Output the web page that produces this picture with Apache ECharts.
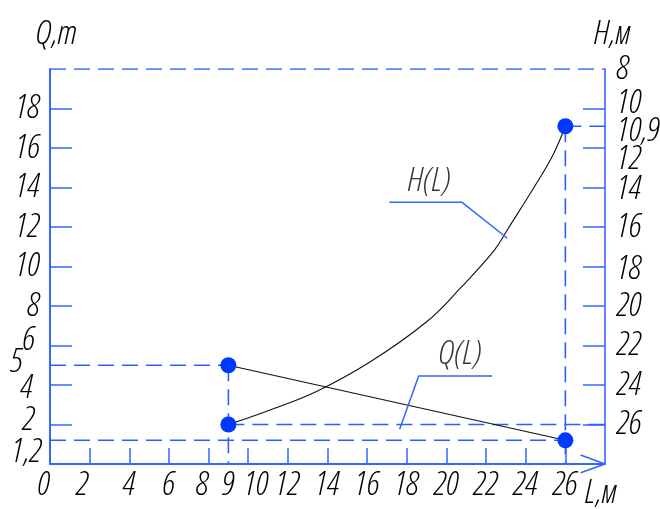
<!DOCTYPE html>
<html><head><meta charset="utf-8">
<script src="https://cdn.jsdelivr.net/npm/echarts@6/dist/echarts.min.js"></script>
<style>html,body{margin:0;padding:0;background:#fff}#c{width:660px;height:509px}</style>
</head><body><div id="c"></div>
<script>
// ---- data ----
const xTickLabels = [0, 2, 4, 6, 8, 9, 10, 12, 14, 16, 18, 20, 22, 24, 26];
const xTicks = [2, 4, 6, 8, 10, 12, 14, 16, 18, 20, 22, 24, 26];
const qTickLabels = [8, 10, 12, 14, 16, 18];
const qLowLabelsA = [1.2, 5];
const qLowLabelsB = [2, 6];
const qLowLabelsC = [4];
const qTicks = [2, 4, 6, 8, 10, 12, 14, 16, 18];
const hTickLabels = [8, 10, 10.9, 12, 14, 16, 18, 20, 22, 24, 26];
const hTicks = [10, 12, 14, 16, 18, 20, 22, 24, 26];

const qL = [9, 26];
const qValues = [5, 1.2];

const hL = [9, 11, 13.5, 16.2, 19.0, 20.7, 22.4, 23.1, 24.6, 25.4, 26];
const hValues = [26, 25.3, 24.3, 22.8, 20.8, 19.1, 17.2, 16.1, 13.7, 12.3, 10.9];

const xMax = 28, qMax = 20, hMin = 8, hMax = 28;

// ---- styles ----
const AX = '#3366ff';
const DASH = '#2a60ff';
const MARK = '#0038ff';
const txt = { fontFamily: '"Open Sans"', fontWeight: '300 condensed', fontStyle: 'italic', fontSize: 34, color: '#000' };

function key(v) { return String(v).replace('.', 'p'); }
function R(p) { return { padding: p }; }
const xRich = { n: R([0, 0, 0, 0]), a0: R([0, 12, 0, 0]), a2: R([0, 14, 0, 0]), a8: R([0, 12, 0, 0]), a10: R([0, 0, 0, 16]) };
const xMap = { '0': 'a0', '2': 'a2', '8': 'a8', '10': 'a10' };
const qRich = { n: R([0, 2, 0, 0]), b6: R([0, 7, 10, 0]), b5: R([0, 19, 6, 0]), b4: R([6, 9, 0, 0]), b2: R([0, 7, 8, 0]), b1p2: R([24, 0, 0, 0]) };
const qMap = { '6': 'b6', '5': 'b5', '4': 'b4', '2': 'b2', '1p2': 'b1p2' };
const hRich = { n: R([0, 0, 0, 0]), c10: R([0, 0, 10, 0]), c10p9: R([10, 0, 0, 0]), c12: R([22, 0, 0, 0]), c14: R([4, 0, 0, 0]), c18: R([6, 0, 0, 0]) };
const hMap = { '10': 'c10', '10p9': 'c10p9', '12': 'c12', '14': 'c14', '18': 'c18' };
const fmt = (map) => (v) => { const k = map[key(v)] || 'n'; return '{' + k + '|' + String(v).replace('.', ',') + '}'; };

function dashed(yIdx, pts) {
  return { type: 'line', xAxisIndex: 0, yAxisIndex: yIdx, data: pts, symbol: 'none', silent: true,
    lineStyle: { color: DASH, width: 1.6, type: [16, 8] }, z: 2 };
}
function solid(yIdx, pts, color, width, extra) {
  return Object.assign({ type: 'line', xAxisIndex: 0, yAxisIndex: yIdx, data: pts, symbol: 'none', silent: true, clip: false,
    lineStyle: { color: color, width: width } , z: 3 }, extra || {});
}

const hPts = hL.map((l, i) => [l, hValues[i]]);
const qPts = qL.map((l, i) => [l, qValues[i]]);
const last = hL.length - 1;

const series = [
  dashed(0, [[0, qMax], [xMax, qMax]]),
  dashed(0, [[0, qValues[0]], [qL[0], qValues[0]]]),
  dashed(0, [[qL[0], qValues[0]], [qL[0], 0]]),
  dashed(0, [[0, qValues[1]], [qL[1], qValues[1]]]),
  dashed(1, [[hL[0], hValues[0]], [xMax, hValues[0]]]),
  dashed(1, [[hL[last], hValues[last]], [hL[last], hMax]]),
  dashed(1, [[hL[last], hValues[last]], [xMax, hValues[last]]]),
  solid(0, qPts, '#111', 1.1),
  solid(1, hPts, '#111', 1.1, { smooth: 0.4 }),
  solid(0, [[17.12, 13.25], [20.79, 13.25], [23.07, 11.43]], AX, 1.5),
  solid(0, [[17.64, 1.76], [18.6, 4.46], [22.31, 4.46]], AX, 1.5),
  solid(0, [[26.77, 0.46], [xMax, 0], [26.77, -0.44]], AX, 1.6),
  { type: 'scatter', xAxisIndex: 0, yAxisIndex: 0, data: qPts, symbolSize: 16, itemStyle: { color: MARK, opacity: 1 }, z: 5 },
  { type: 'scatter', xAxisIndex: 0, yAxisIndex: 1, data: [hPts[0], hPts[last]], symbolSize: 16, itemStyle: { color: MARK, opacity: 1 }, z: 5 },
  { type: 'scatter', xAxisIndex: 0, yAxisIndex: 0, symbolSize: 1, itemStyle: { color: 'rgba(0,0,0,0)' }, z: 6,
    data: [
      { value: [19.14, 13.25], label: { show: true, position: 'top', distance: 4, formatter: 'H(L)', ...txt } },
      { value: [20.7, 4.46], label: { show: true, position: 'top', distance: 4, formatter: 'Q(L)', ...txt } }
    ] }
];

const lbl = (vals, margin, map, rich) => ({ show: true, customValues: vals, margin: margin, hideOverlap: false, formatter: fmt(map), rich: rich, ...txt });

const extraQAxes = [qLowLabelsA, qLowLabelsB, qLowLabelsC].map(vals => ({
  type: 'value', min: 0, max: qMax, interval: 2, position: 'left', offset: 0,
  axisLine: { show: false }, axisTick: { show: false }, splitLine: { show: false },
  axisLabel: lbl(vals, 8, qMap, qRich)
}));

const chart = echarts.init(document.getElementById('c'), null, { renderer: 'canvas' });
chart.setOption({
  animation: false,
  backgroundColor: '#fff',
  grid: { left: 50, right: 55, top: 69, bottom: 45, containLabel: false, outerBoundsMode: 'none' },
  xAxis: {
    type: 'value', min: 0, max: xMax, interval: 2,
    axisLine: { show: true, onZero: false, lineStyle: { color: AX, width: 2 } },
    axisTick: { show: true, inside: true, length: 16, customValues: xTicks, lineStyle: { color: AX, width: 1.5 } },
    axisLabel: lbl(xTickLabels, 4, xMap, xRich),
    splitLine: { show: false },
    name: 'L,м', nameLocation: 'end', nameGap: -20,
    nameTextStyle: { ...txt, align: 'left', verticalAlign: 'top', padding: [12, 0, 0, 0] }
  },
  yAxis: [
    {
      type: 'value', min: 0, max: qMax, interval: 2, position: 'left',
      axisLine: { show: true, onZero: false, lineStyle: { color: AX, width: 2 } },
      axisTick: { show: true, inside: true, length: 22, customValues: qTicks, lineStyle: { color: AX, width: 1.5 } },
      axisLabel: lbl(qTickLabels, 8, qMap, qRich),
      splitLine: { show: false },
      name: 'Q,т', nameLocation: 'end', nameGap: 18,
      nameTextStyle: { ...txt, padding: [0, 0, 0, 13] }
    },
    {
      type: 'value', min: hMin, max: hMax, interval: 2, position: 'right', inverse: true,
      axisLine: { show: true, onZero: false, lineStyle: { color: AX, width: 1.6 } },
      axisTick: { show: true, inside: true, length: 22, customValues: hTicks, lineStyle: { color: AX, width: 1.5 } },
      axisLabel: lbl(hTickLabels, 12, hMap, hRich),
      splitLine: { show: false },
      name: 'H,м', nameLocation: 'start', nameGap: 18,
      nameTextStyle: { ...txt, padding: [0, 0, 0, 15] }
    }
  ].concat(extraQAxes),
  series: series
});
</script>
</body></html>
